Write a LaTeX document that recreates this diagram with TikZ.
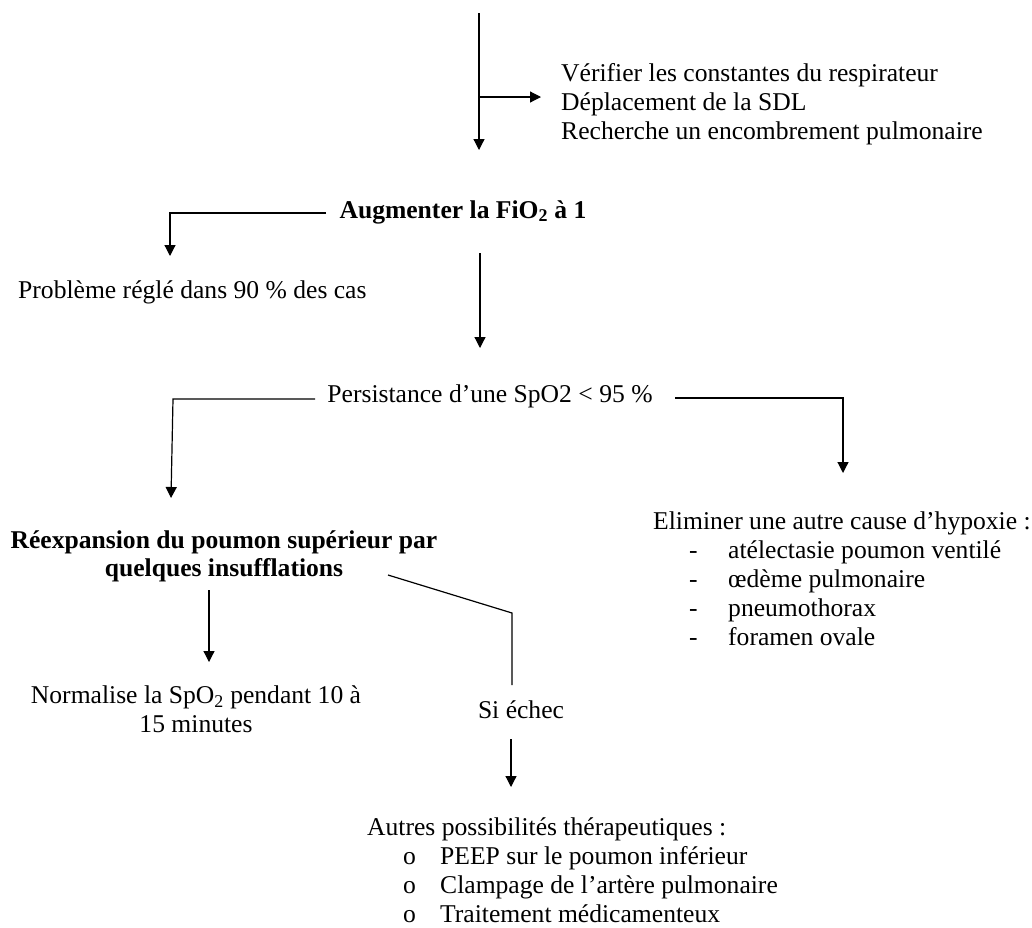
\documentclass[tikz,border=0pt]{standalone}
\usepackage{fontspec}
\setmainfont{Liberation Serif}
\usetikzlibrary{arrows.meta}
\begin{document}
\begin{tikzpicture}[x=1pt,y=-1pt,
  txt/.style={inner sep=0pt, font=\fontsize{25.6}{29}\selectfont},
  boldtxt/.style={inner sep=0pt, font=\fontsize{25.6}{28}\selectfont\bfseries},
  con/.style={line width=1.2pt},
  arr/.style={con,-{Triangle[width=11pt,length=11pt]}}]
\useasboundingbox (0,0) rectangle (1032,927);

% text nodes
\node[txt,anchor=west,align=left] (verif) at (561,104)
  {Vérifier les constantes du respirateur\\Déplacement de la SDL\\Recherche un encombrement pulmonaire};
\node[boldtxt] (fio) at (463,212) {Augmenter la FiO\textsubscript{2} à 1};
\node[txt,anchor=west] (regle) at (18,292) {Problème réglé dans 90 \% des cas};
\node[txt] (persist) at (490,396) {Persistance d’une SpO2 < 95 \%};
\node[boldtxt,align=center] (reexp) at (224,556) {Réexpansion du poumon supérieur par\\quelques insufflations};
\node[txt,anchor=west,align=left] (elim) at (653,579)
  {Eliminer une autre cause d’hypoxie :\\
   \hspace*{36pt}\makebox[39pt][l]{-}atélectasie poumon ventilé\\
   \hspace*{36pt}\makebox[39pt][l]{-}œdème pulmonaire\\
   \hspace*{36pt}\makebox[39pt][l]{-}pneumothorax\\
   \hspace*{36pt}\makebox[39pt][l]{-}foramen ovale};
\node[txt,align=center] (norm) at (196,709) {Normalise la SpO\textsubscript{2} pendant 10 à\\15 minutes};
\node[txt] (echec) at (521,710) {Si échec};
\node[txt,anchor=west,align=left] (autres) at (367,870)
  {Autres possibilités thérapeutiques :\\
   \hspace*{36pt}\makebox[37pt][l]{o}PEEP sur le poumon inférieur\\
   \hspace*{36pt}\makebox[37pt][l]{o}Clampage de l’artère pulmonaire\\
   \hspace*{36pt}\makebox[37pt][l]{o}Traitement médicamenteux};

% connector end points
\coordinate (top0) at (479,13);
\coordinate (top1) at (479,150);
\coordinate (br0) at (479,97);
\coordinate (br1) at (541,97);
\coordinate (f0) at (326,213);
\coordinate (f1) at (170,213);
\coordinate (f2) at (170,256);
\coordinate (m0) at (480,253);
\coordinate (m1) at (480,348);
\coordinate (pl0) at (315,399);
\coordinate (pl1) at (173,399);
\coordinate (pl2) at (171,498);
\coordinate (pr0) at (675,398);
\coordinate (pr1) at (843,398);
\coordinate (pr2) at (843,473);
\coordinate (r0) at (209,590);
\coordinate (r1) at (209,662);
\coordinate (s0) at (388,575);
\coordinate (s1) at (512,613);
\coordinate (s2) at (512,685);
\coordinate (e0) at (511,739);
\coordinate (e1) at (511,787);

% connectors
\draw[arr] (top0) -- (top1);
\draw[arr] (br0) -- (br1);
\draw[arr] (f0) -- (f1) -- (f2);
\draw[arr] (m0) -- (m1);
\draw[arr] (pl0) -- (pl1) -- (pl2);
\draw[arr] (pr0) -- (pr1) -- (pr2);
\draw[arr] (r0) -- (r1);
\draw[con] (s0) -- (s1) -- (s2);
\draw[arr] (e0) -- (e1);
\end{tikzpicture}
\end{document}
